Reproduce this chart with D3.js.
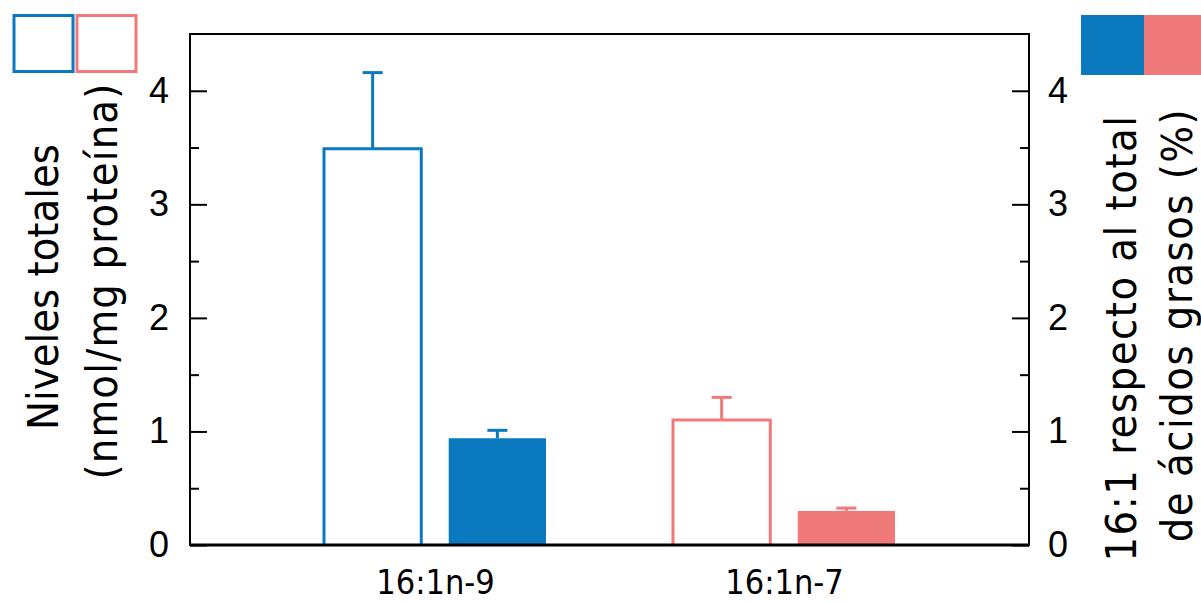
<!DOCTYPE html>
<html><head><meta charset="utf-8">
<script src="https://cdn.jsdelivr.net/npm/d3@7"></script>
<style>html,body{margin:0;padding:0;background:#fff;}svg{display:block;}</style>
</head><body>
<svg id="chart" width="1201" height="603"></svg>
<script>
const categories = ["16:1n-9", "16:1n-7"];
const seriesKeys = ["total", "pct"];
const totalValues = [3.49, 1.10];
const totalErrors = [0.67, 0.20];
const pctValues = [0.94, 0.30];
const pctErrors = [0.07, 0.025];
const yTicks = [0, 1, 2, 3, 4];
const yMinorTicks = [0.5, 1.5, 2.5, 3.5];

(function () {
const blue = "#0a79be", pink = "#f07a7a";
const colors = [blue, pink];

const svg = d3.select("#chart");
const pl = 190, pr = 1029, pt = 34, pb = 545;
const y = d3.scaleLinear().domain([0, 4.5]).range([pb, pt]);
const x = d3.scalePoint().domain(categories).range([pl, pr]).padding(0.702);
const x1 = d3.scaleBand().domain(seriesKeys).range([-111, 111]).paddingInner(0.22);

const numFont = "'Liberation Sans', Arial, sans-serif";
const txtFont = "'DejaVu Sans Condensed', 'DejaVu Sans', Verdana, sans-serif";

svg.append("rect").attr("x", pl).attr("y", pt).attr("width", pr-pl).attr("height", pb-pt)
  .attr("fill", "none").attr("stroke", "#000").attr("stroke-width", 2);

const yl = d3.axisLeft(y).tickValues(yTicks).tickSize(-17).tickPadding(21).tickFormat(d3.format("d"));
const yr = d3.axisRight(y).tickValues(yTicks).tickSize(-17).tickPadding(19).tickFormat(d3.format("d"));
const gl = svg.append("g").attr("transform", `translate(${pl},0)`).call(yl);
const gr = svg.append("g").attr("transform", `translate(${pr},0)`).call(yr);
svg.append("g").attr("transform", `translate(${pl},0)`).call(d3.axisLeft(y).tickValues(yMinorTicks).tickSize(-9).tickFormat(""));
svg.append("g").attr("transform", `translate(${pr},0)`).call(d3.axisRight(y).tickValues(yMinorTicks).tickSize(-9).tickFormat(""));
const gx = svg.append("g").attr("transform", `translate(0,${pb})`).call(d3.axisBottom(x).tickSize(0).tickPadding(25));
svg.selectAll(".domain").remove();
svg.selectAll(".tick line").attr("stroke", "#000").attr("stroke-width", 2);
gl.selectAll("text").attr("font-family", numFont).attr("font-size", 36).attr("fill", "#000");
gr.selectAll("text").attr("font-family", numFont).attr("font-size", 36).attr("fill", "#000");
gx.selectAll("text").attr("font-family", txtFont).attr("font-size", 34).attr("fill", "#000").attr("dy", "0.71em");

categories.forEach((c, i) => {
  const col = colors[i];
  const cx = x(c);
  const w = x1.bandwidth();
  const xo = cx + x1("total");
  svg.append("line").attr("x1", xo + w/2).attr("x2", xo + w/2)
    .attr("y1", y(totalValues[i])).attr("y2", y(totalValues[i] + totalErrors[i]))
    .attr("stroke", col).attr("stroke-width", 3);
  svg.append("line").attr("x1", xo + w/2 - 10).attr("x2", xo + w/2 + 10)
    .attr("y1", y(totalValues[i] + totalErrors[i])).attr("y2", y(totalValues[i] + totalErrors[i]))
    .attr("stroke", col).attr("stroke-width", 3);
  svg.append("path")
    .attr("d", `M${xo},${y(0)}V${y(totalValues[i])}H${xo + w}V${y(0)}`)
    .attr("fill", "#fff").attr("stroke", col).attr("stroke-width", 3);
  const xf = cx + x1("pct");
  svg.append("line").attr("x1", xf + w/2).attr("x2", xf + w/2)
    .attr("y1", y(pctValues[i])).attr("y2", y(pctValues[i] + pctErrors[i]))
    .attr("stroke", col).attr("stroke-width", 3);
  svg.append("line").attr("x1", xf + w/2 - 10).attr("x2", xf + w/2 + 10)
    .attr("y1", y(pctValues[i] + pctErrors[i])).attr("y2", y(pctValues[i] + pctErrors[i]))
    .attr("stroke", col).attr("stroke-width", 3);
  svg.append("rect").attr("x", xf).attr("y", y(pctValues[i])).attr("width", w)
    .attr("height", y(0) - y(pctValues[i])).attr("fill", col);
});

svg.append("line").attr("x1", pl).attr("x2", pr).attr("y1", pb).attr("y2", pb)
  .attr("stroke", "#000").attr("stroke-width", 3);

svg.append("rect").attr("x", 14).attr("y", 15.5).attr("width", 59).attr("height", 56)
  .attr("fill", "#fff").attr("stroke", blue).attr("stroke-width", 3);
svg.append("rect").attr("x", 77).attr("y", 15.5).attr("width", 59).attr("height", 56)
  .attr("fill", "#fff").attr("stroke", pink).attr("stroke-width", 3);
svg.append("rect").attr("x", 1081).attr("y", 15).attr("width", 63).attr("height", 60).attr("fill", blue);
svg.append("rect").attr("x", 1144).attr("y", 15).attr("width", 63).attr("height", 60).attr("fill", pink);

const lt = svg.append("text").attr("transform", "translate(58,287) rotate(-90)")
  .attr("text-anchor", "middle").attr("font-family", txtFont).attr("font-size", 43).attr("fill", "#000");
lt.append("tspan").attr("x", 0).attr("dy", 0).text("Niveles totales");
lt.append("tspan").attr("x", 6).attr("dy", 59).attr("letter-spacing", 1.2).text("(nmol/mg proteína)");

const rt = svg.append("text").attr("transform", "translate(1136,338) rotate(-90)")
  .attr("text-anchor", "middle").attr("font-family", txtFont).attr("font-size", 43).attr("fill", "#000")
  .attr("letter-spacing", 1.5);
rt.append("tspan").attr("x", 0).attr("dy", 0).text("16:1 respecto al total");
rt.append("tspan").attr("x", 13).attr("dy", 56).text("de ácidos grasos (%)");
})();
</script>
</body></html>
